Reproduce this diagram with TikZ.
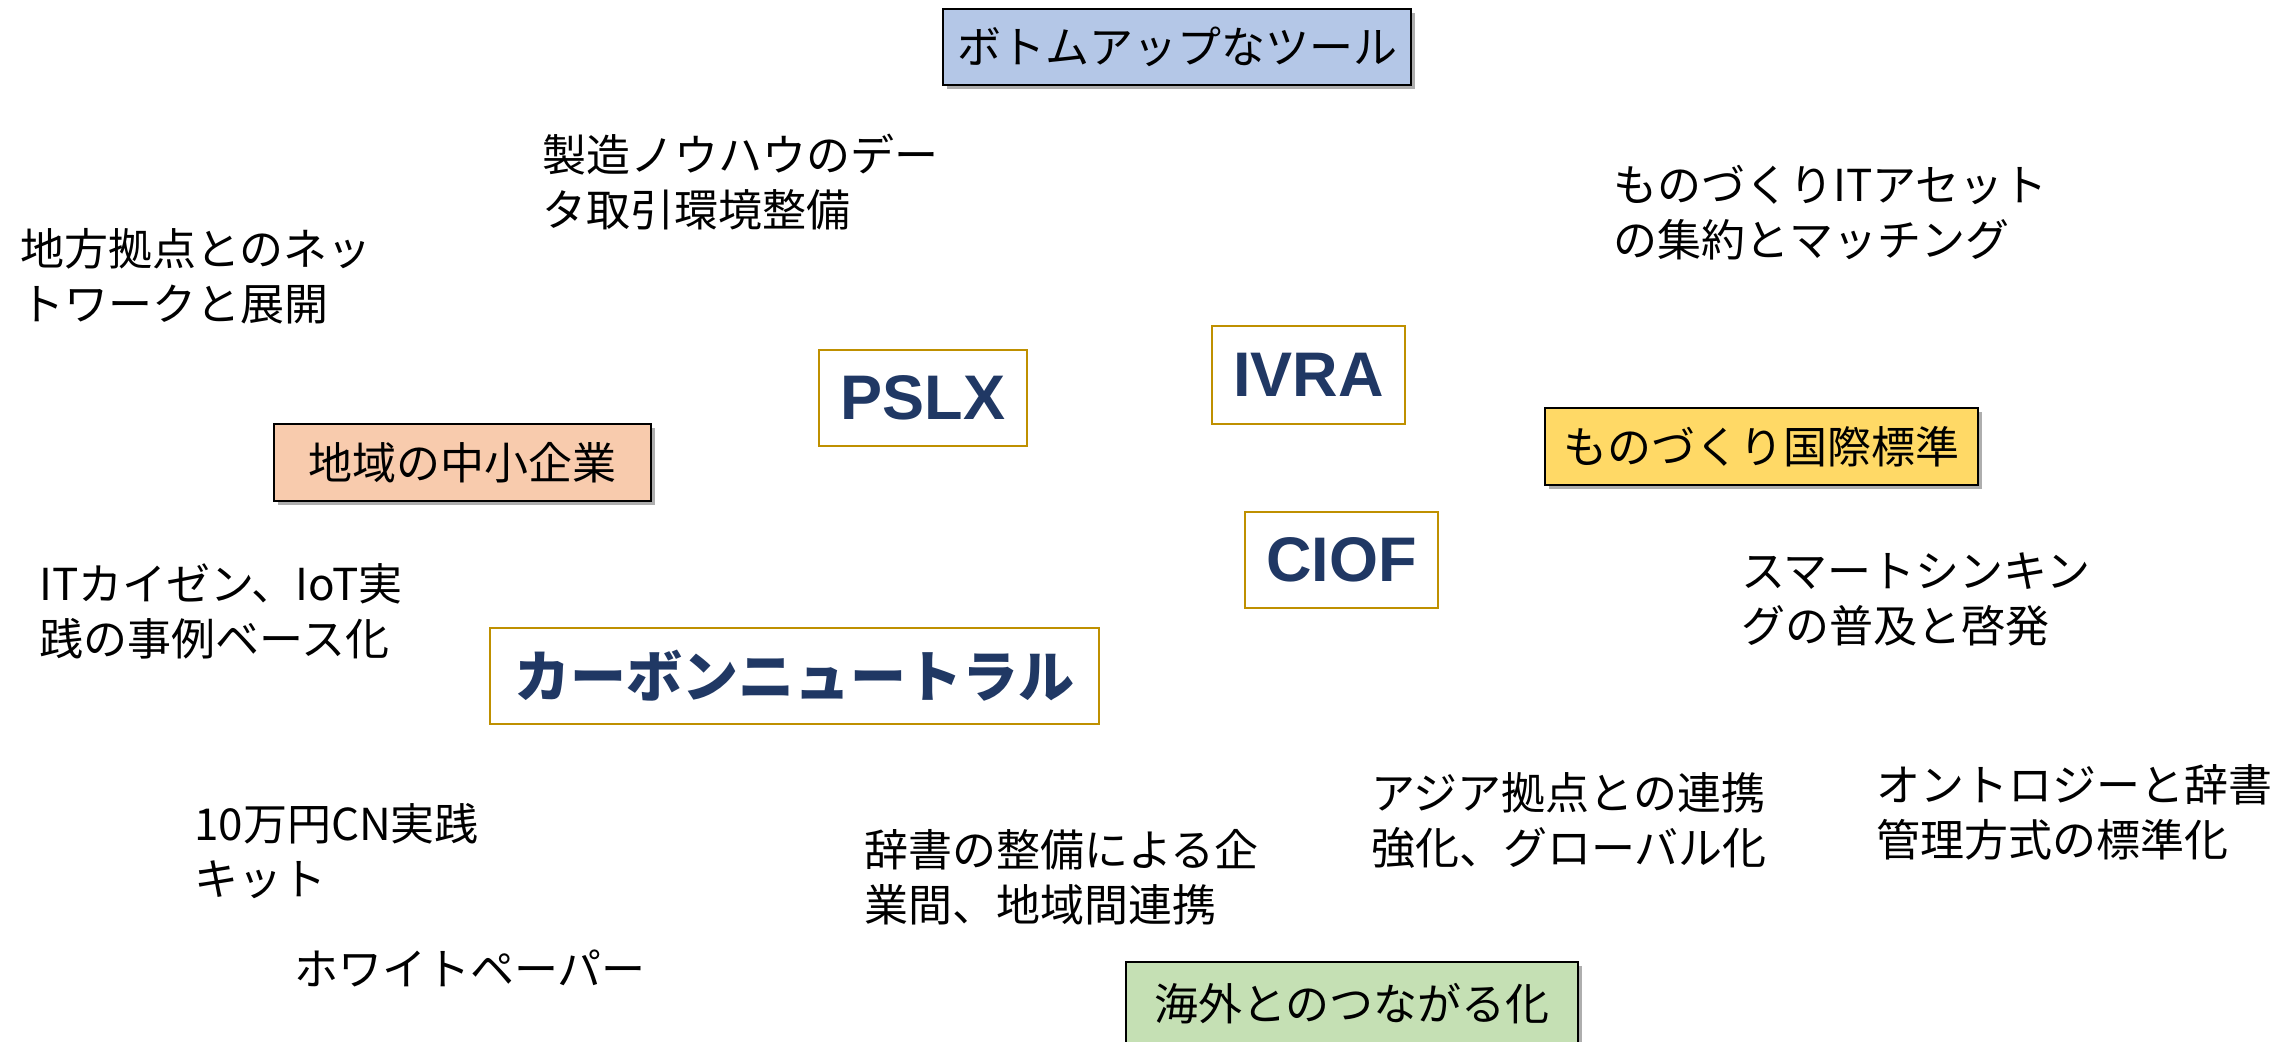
\documentclass[tikz,border=0pt]{standalone}
\usepackage{fontspec}
\setmainfont{Noto Sans CJK JP}
\newfontfamily\arialf{Liberation Sans}
\usetikzlibrary{shadows}
\definecolor{gold}{HTML}{BF9000}
\definecolor{navy}{HTML}{203864}
\definecolor{fblue}{HTML}{B4C7E7}
\definecolor{fpeach}{HTML}{F8CBAD}
\definecolor{fyellow}{HTML}{FFD966}
\definecolor{fgreen}{HTML}{C5E0B4}
\begin{document}
\begin{tikzpicture}[x=1pt,y=-1pt,
  tagbox/.style={draw=black, line width=2pt, inner sep=0pt,
    font=\fontsize{44}{52}\selectfont,
    drop shadow={shadow xshift=4pt, shadow yshift=-4pt, opacity=0.45, fill=black!70}},
  keybox/.style={draw=gold, line width=2pt, fill=white, inner sep=0pt, text=navy},
  keyfont/.style={font=\fontsize{63}{70}\selectfont\arialf\bfseries},
  note/.style={anchor=west, align=left, inner sep=0pt, font=\fontsize{44}{55}\selectfont}]
\path[use as bounding box] (0,0) rectangle (2285,1041);
\clip (0,0) rectangle (2285,1041);

% coloured tag boxes
\node[tagbox, fill=fblue, minimum width=468pt, minimum height=76pt] (tool) at (1177,47) {ボトムアップなツール};
\node[tagbox, fill=fpeach, minimum width=377pt, minimum height=77pt] (chiiki) at (462.5,462.5) {地域の中小企業};
\node[tagbox, fill=fyellow, minimum width=433pt, minimum height=77pt] (kokusai) at (1761.5,446.5) {ものづくり国際標準};
\node[tagbox, fill=fgreen, minimum width=452pt, minimum height=83pt] (kaigai) at (1352,1003.5) {海外とのつながる化};

% key boxes
\node[keybox, keyfont, minimum width=208pt, minimum height=96pt] (pslx) at (923,398) {PSLX};
\node[keybox, keyfont, minimum width=193pt, minimum height=98pt] (ivra) at (1308.5,375) {IVRA};
\node[keybox, keyfont, minimum width=193pt, minimum height=96pt] (ciof) at (1341.5,560) {CIOF};
\node[keybox, font=\fontsize{56}{62}\selectfont\bfseries, minimum width=609pt, minimum height=96pt] (cn) at (794.5,676) {カーボンニュートラル};

% notes
\node[note] (seizo) at (542,182) {製造ノウハウのデー\\タ取引環境整備};
\node[note] (chiho) at (20,276) {地方拠点とのネッ\\トワークと展開};
\node[note] (itasset) at (1613,213) {ものづくりITアセット\\の集約とマッチング};
\node[note] (kaizen) at (39,611) {ITカイゼン、IoT実\\践の事例ベース化};
\node[note] (smart) at (1741,599) {スマートシンキン\\グの普及と啓発};
\node[note] (asia) at (1371,820) {アジア拠点との連携\\強化、グローバル化};
\node[note] (onto) at (1876,812) {オントロジーと辞書\\管理方式の標準化};
\node[note] (kit) at (194,851) {10万円CN実践\\キット};
\node[note] (jisho) at (864,877) {辞書の整備による企\\業間、地域間連携};
\node[note] (white) at (294,968) {ホワイトペーパー};
\end{tikzpicture}
\end{document}
